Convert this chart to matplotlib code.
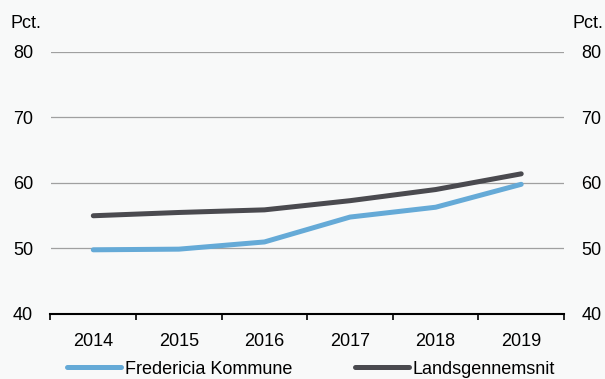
import numpy as np
import matplotlib.pyplot as plt

plt.rcParams['font.family'] = ['Liberation Sans', 'DejaVu Sans']

years = ['2014', '2015', '2016', '2017', '2018', '2019']
fredericia = [49.8, 49.9, 51.0, 54.8, 56.3, 59.8]
landsgns = [55.0, 55.5, 55.9, 57.3, 59.0, 61.4]

bg = '#f8f9f9'
blue = '#65aad7'
dark = '#4a4a4f'

fig = plt.figure(figsize=(6.05, 3.79), dpi=100, facecolor=bg)
ax = fig.add_axes([50.5 / 605, 1 - 314 / 379, 513.5 / 605, 262 / 379])
ax.set_facecolor(bg)

x = np.arange(len(years))
ax.plot(x, fredericia, color=blue, lw=3.6, solid_capstyle='round', label='Fredericia Kommune')
ax.plot(x, landsgns, color=dark, lw=3.6, solid_capstyle='round', label='Landsgennemsnit')

ax.set_xlim(-0.5, len(years) - 0.5)
ax.set_ylim(40, 80)
ax.set_yticks([40, 50, 60, 70, 80])
for v in [50, 60, 70, 80]:
    ax.axhline(v, color='#a0a0a0', lw=0.9, zorder=0)

ax.set_xticks(x)
ax.set_xticklabels(years)
ax.set_xticks(np.arange(-0.5, len(years)), minor=True)
ax.tick_params(axis='x', which='major', length=0, pad=14, labelsize=13)
ax.tick_params(axis='x', which='minor', length=4, width=1.2, color='black', direction='out')
ax.tick_params(axis='y', length=0, pad=12.5, labelsize=13)

for s in ['top', 'right', 'left']:
    ax.spines[s].set_visible(False)
ax.spines['bottom'].set_linewidth(1.5)

ax2 = ax.twinx()
ax2.set_ylim(40, 80)
ax2.set_yticks([40, 50, 60, 70, 80])
ax2.tick_params(axis='y', length=0, pad=12.5, labelsize=13)
for s in ax2.spines.values():
    s.set_visible(False)

fig.text(11 / 605, 1 - 24 / 379, 'Pct.', fontsize=13, va='center', ha='left')
fig.text(603 / 605, 1 - 24 / 379, 'Pct.', fontsize=13, va='center', ha='right')

fig.legend(loc='center', bbox_to_anchor=(311 / 605, 1 - 369 / 379), ncol=2, frameon=False,
           fontsize=13, handlelength=3.0, handletextpad=0.2, columnspacing=3.5,
           borderpad=0, borderaxespad=0)

fig.savefig('out.png', dpi=100, facecolor=bg)
